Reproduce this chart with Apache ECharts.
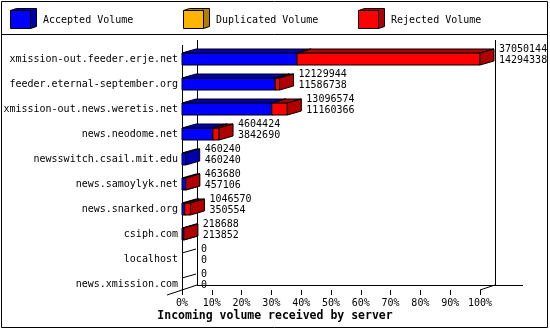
<!DOCTYPE html>
<html>
<head>
<meta charset="utf-8">
<script src="https://cdn.jsdelivr.net/npm/echarts@6/dist/echarts.min.js"></script>
<style>
html,body{margin:0;padding:0;background:#fff;}
#c{width:550px;height:330px;}
</style>
</head>
<body>
<div id="c"></div>
<script>
// ---- data ----
const categories = [
  'xmission-out.feeder.erje.net',
  'feeder.eternal-september.org',
  'xmission-out.news.weretis.net',
  'news.neodome.net',
  'newsswitch.csail.mit.edu',
  'news.samoylyk.net',
  'news.snarked.org',
  'csiph.com',
  'localhost',
  'news.xmission.com'
];
const offered    = [37050144, 12129944, 13096574, 4604424, 460240, 463680, 1046570, 218688, 0, 0];
const accepted   = [14294338, 11586738, 11160366, 3842690, 460240, 457106, 350554, 213852, 0, 0];
const duplicated = [0, 0, 0, 0, 0, 0, 0, 0, 0, 0];
const seriesNames = ['Accepted Volume', 'Duplicated Volume', 'Rejected Volume'];
const xTicks = [0, 10, 20, 30, 40, 50, 60, 70, 80, 90, 100];
const chartTitle = 'Incoming volume received by server';

// ---- styles ----
const FRONT = ['#0000ff', '#ffb400', '#ff0000'];
const SHADE = ['#0000b0', '#b07e00', '#b00000'];
const MONO = '"DejaVu Sans Mono", "Liberation Mono", monospace';
const GRID_LEFT = 182, GRID_RIGHT = 70, GRID_TOP = 46.5, GRID_H = 250;
const DX = 14, DY = 4, BAR_H = 12;

const maxVal = Math.max.apply(null, offered);
const pct = v => v / maxVal * 100;
const barData = categories.map((c, i) => [i, pct(accepted[i]), pct(duplicated[i]), pct(offered[i]), offered[i], accepted[i]]);

function renderBar(params, api) {
  const i = api.value(0);
  const acc = api.value(1), dup = api.value(2), tot = api.value(3);
  const yc = api.coord([0, i])[1];
  const yT = yc - BAR_H / 2, yB = yc + BAR_H / 2;
  const segs = [[0, acc, 0], [acc, acc + dup, 1], [acc + dup, tot, 2]];
  const children = [];
  const st = {stroke: '#000', lineWidth: 1};
  if (!(tot > 0)) {
    const x0 = api.coord([0, i])[0];
    children.push({type: 'line', shape: {x1: x0, y1: yT, x2: x0 + DX, y2: yT - DY}, style: st});
  } else {
    segs.forEach((s, k) => {
      if (!(s[1] - s[0] > 0)) return;
      const xa = api.coord([s[0], i])[0];
      const xb = api.coord([s[1], i])[0];
      children.push({type: 'rect', shape: {x: xa, y: yT, width: xb - xa, height: BAR_H},
        style: Object.assign({fill: FRONT[s[2]]}, st)});
      children.push({type: 'polygon', shape: {points: [[xa, yT], [xb, yT], [xb + DX, yT - DY], [xa + DX, yT - DY]]},
        style: Object.assign({fill: SHADE[s[2]]}, st)});
      children.push({type: 'polygon', shape: {points: [[xb, yT], [xb + DX, yT - DY], [xb + DX, yB - DY], [xb, yB]]},
        style: Object.assign({fill: SHADE[s[2]]}, st)});
    });
  }
  const xe = api.coord([tot, i])[0] + DX + 5;
  children.push({type: 'text', style: {text: String(api.value(4)), x: xe, y: yc - 9.5, fill: '#000', font: '10px ' + MONO, verticalAlign: 'middle', align: 'left'}});
  children.push({type: 'text', style: {text: String(api.value(5)), x: xe, y: yc + 1.5, fill: '#000', font: '10px ' + MONO, verticalAlign: 'middle', align: 'left'}});
  return {type: 'group', children: children};
}

// frame (3D axes)
const X0 = GRID_LEFT, X1 = 550 - GRID_RIGHT, YF = 290, YT = 45, FDX = 15, FDY = 5;
const line = (x1, y1, x2, y2) => ({type: 'line', shape: {x1, y1, x2, y2}, style: {stroke: '#000', lineWidth: 1}, z: 1});
const graphics = [
  {type: 'rect', shape: {x: 1.5, y: 1.5, width: 546, height: 326}, style: {fill: 'none', stroke: '#000', lineWidth: 1}, z: 0},
  line(1.5, 34.5, 548, 34.5),
  line(X0 + 0.5, YT, X0 + 0.5, YF),
  line(X0 + FDX + 0.5, YT - FDY, X0 + FDX + 0.5, YF - FDY),
  line(X1 + FDX + 0.5, YT - FDY, X1 + FDX + 0.5, YF - FDY),
  line(X0 + FDX, YF - FDY + 0.5, 523, YF - FDY + 0.5),
  line(X0 - FDX, YF + FDY, X0 + FDX, YF - FDY),
  line(X1, YF, X1 + FDX, YF - FDY)
];
// legend cubes
const legendX = [10, 183, 358];
seriesNames.forEach((n, k) => {
  const x = legendX[k] + 0.5, y = 10.5, w = 20, h = 18, d = 6, e = 2;
  graphics.push({type: 'polygon', shape: {points: [[x, y], [x + d, y - e], [x + w + d, y - e], [x + w + d, y + h - e], [x + w, y + h], [x + w, y]]},
    style: {fill: SHADE[k], stroke: '#000', lineWidth: 1}, z: 2});
  graphics.push({type: 'rect', shape: {x: x, y: y, width: w, height: h}, style: {fill: FRONT[k], stroke: '#000', lineWidth: 1}, z: 2});
  graphics.push({type: 'text', style: {text: n, x: legendX[k] + 33, y: 20, fill: '#000', font: '10px ' + MONO, verticalAlign: 'middle'}, z: 2});
});

const chart = echarts.init(document.getElementById('c'), null, {renderer: 'canvas'});
chart.setOption({
  backgroundColor: '#fff',
  animation: false,
  title: {text: chartTitle, left: 'center', top: 310, padding: 0,
    textStyle: {fontFamily: MONO, fontSize: 11.5, fontWeight: 'bold', color: '#000'}},
  grid: {left: GRID_LEFT, right: GRID_RIGHT, top: GRID_TOP, height: GRID_H},
  xAxis: {type: 'value', min: xTicks[0], max: xTicks[xTicks.length - 1], interval: xTicks[1] - xTicks[0], offset: -6.5,
    axisLine: {show: false}, splitLine: {show: false},
    axisTick: {show: true, length: 5, lineStyle: {color: '#000'}},
    axisLabel: {formatter: '{value}%', margin: 8, color: '#000', fontFamily: MONO, fontSize: 10}},
  yAxis: {type: 'category', data: categories, inverse: true,
    axisLine: {show: false}, axisTick: {show: false}, splitLine: {show: false},
    axisLabel: {margin: 4, color: '#000', fontFamily: MONO, fontSize: 10}},
  graphic: graphics,
  series: [{type: 'custom', renderItem: renderBar, data: barData, encode: {x: [1, 3], y: 0}, clip: false, z: 3}]
});
</script>
</body>
</html>
